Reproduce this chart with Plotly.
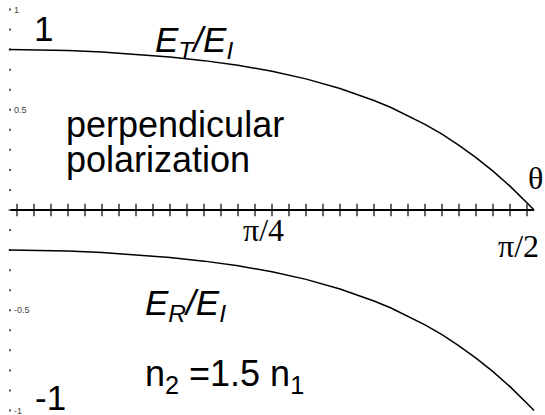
import plotly.graph_objects as go

# angle of incidence (rad) and field ratios
theta = [0.026, 0.1, 0.2, 0.3, 0.4, 0.5, 0.6, 0.7, 0.8, 0.9, 1.0, 1.1, 1.15,
         1.2, 1.25, 1.3, 1.35, 1.4, 1.45, 1.5, 1.52, 1.54, 1.56, 1.5708]
et_ei = [0.800, 0.799, 0.795, 0.788, 0.777, 0.763, 0.745, 0.722, 0.692, 0.654,
         0.606, 0.546, 0.511, 0.471, 0.427, 0.378, 0.322, 0.261, 0.194, 0.119,
         0.087, 0.054, 0.019, 0.0]
er_ei = [-0.200, -0.201, -0.205, -0.212, -0.223, -0.237, -0.255, -0.278, -0.308,
         -0.346, -0.394, -0.454, -0.489, -0.529, -0.573, -0.622, -0.678, -0.739,
         -0.806, -0.881, -0.913, -0.946, -0.981, -1.0]

x_ticks = [round(0.05 * k, 2) for k in range(1, 32)]
y_ticks = [round(-1 + 0.1 * k, 1) for k in range(21)]
y_labels = {1: "1", 0.5: "0.5", -0.5: "-0.5", -1: "-1"}

PX = 340.0      # px per radian
PY = 200.5      # px per unit
Y0 = 210.0      # pixel row of y = 0


def dx(px):
    return px / PX


def dy(py):
    return (Y0 - py) / PY


fig = go.Figure()

# x axis line
fig.add_trace(go.Scatter(x=[theta[0], theta[-1]], y=[0, 0], mode="lines",
                         line=dict(color="black", width=2), hoverinfo="skip"))
# x ticks crossing the axis
fig.add_trace(go.Scatter(x=x_ticks, y=[0] * len(x_ticks), mode="markers",
                         marker=dict(symbol="line-ns", size=9,
                                     line=dict(color="black", width=1.2)),
                         hoverinfo="skip"))
# y axis dots
fig.add_trace(go.Scatter(x=[dx(10)] * len(y_ticks), y=y_ticks, mode="markers",
                         marker=dict(symbol="square", size=2, color="#555"),
                         hoverinfo="skip"))
# curves
fig.add_trace(go.Scatter(x=theta, y=et_ei, mode="lines",
                         line=dict(color="black", width=1.5)))
fig.add_trace(go.Scatter(x=theta, y=er_ei, mode="lines",
                         line=dict(color="black", width=1.5)))

SANS = "Liberation Sans, Arial, sans-serif"
SERIF = "Liberation Serif, Times New Roman, serif"

ann = []
for v, t in y_labels.items():
    ann.append(dict(x=dx(12), y=v, text=t, xanchor="left", yanchor="middle",
                    font=dict(family=SANS, size=9, color="#444")))

def add(text, px, py, size, family=SANS, xanchor="left"):
    ann.append(dict(x=dx(px), y=dy(py), text=text, xanchor=xanchor,
                    yanchor="middle", font=dict(family=family, size=size,
                                                color="black")))

add("1", 32, 28, 35)
add("<i>E<sub>T</sub>/E<sub>I</sub></i>", 153, 42, 35)
add("perpendicular", 64, 124, 36)
add("polarization", 64, 159, 36)
add("θ", 535, 178, 32, SERIF, "center")
add("π/4", 263, 230, 32, SERIF, "center")
add("π/2", 518, 246, 32, SERIF, "center")
add("<i>E<sub>R</sub>/E<sub>I</sub></i>", 143, 305, 35)
add("n<sub>2</sub> =1.5 n<sub>1</sub>", 143, 376, 36)
add("-1", 33, 397, 35)

for a in ann:
    a.update(xref="x", yref="y", showarrow=False)

fig.update_layout(
    width=545, height=415,
    margin=dict(l=0, r=0, t=0, b=0),
    paper_bgcolor="white", plot_bgcolor="white",
    showlegend=False,
    xaxis=dict(range=[0, 545 / PX], visible=False, fixedrange=True),
    yaxis=dict(range=[dy(415), dy(0)], visible=False, fixedrange=True),
    annotations=ann,
)

fig.write_html("out.html",
               config={"displayModeBar": False},
               post_script="document.body.style.margin='0';"
                           "document.body.style.overflow='hidden';")
